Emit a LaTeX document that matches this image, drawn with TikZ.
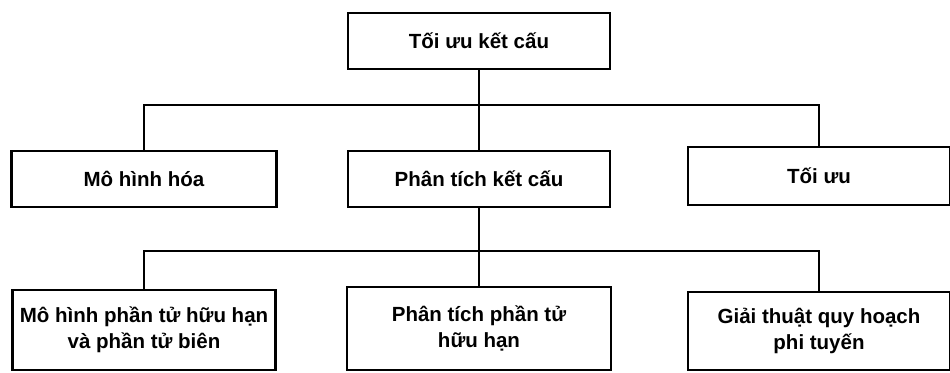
\documentclass[tikz,border=0pt]{standalone}
\usepackage{fontspec}
\setmainfont{Liberation Sans}
\begin{document}
\begin{tikzpicture}[x=1pt,y=-1pt,
  box/.style={draw=black, line width=2.6pt, rectangle, inner sep=0pt,
    font=\bfseries\fontsize{20.5}{26}\selectfont, align=center},
  link/.style={draw=black, line width=2.8pt}]
\fill[white] (0,0) rectangle (950,372);
\useasboundingbox (0,0) rectangle (950,372);
% top
\node[box, minimum width=262pt, minimum height=56pt] (top) at (479,41) {Tối ưu kết cấu};
% middle row
\node[box, minimum width=265pt, minimum height=56pt] (m1) at (144,179) {Mô hình hóa};
\node[box, minimum width=262pt, minimum height=56pt] (m2) at (479,179) {Phân tích kết cấu};
\node[box, minimum width=262pt, minimum height=58pt] (m3) at (819,176) {Tối ưu};
% bottom row
\node[box, minimum width=263pt, minimum height=80pt] (b1) at (144,330) {Mô hình phần tử hữu hạn\\và phần tử biên};
\node[box, minimum width=264pt, minimum height=83pt] (b2) at (479,328.5) {Phân tích phần tử\\hữu hạn};
\node[box, minimum width=262pt, minimum height=78pt] (b3) at (819,331) {Giải thuật quy hoạch\\phi tuyến};
% buses
\coordinate (bus1) at (479,105);
\coordinate (bus2) at (479,251);
\draw[link] (top.south) -- (m2.north);
\draw[link] (m1.north) |- (bus1) -| (m3.north);
\draw[link] (m2.south) -- (b2.north);
\draw[link] (b1.north) |- (bus2) -| (b3.north);
\end{tikzpicture}
\end{document}
